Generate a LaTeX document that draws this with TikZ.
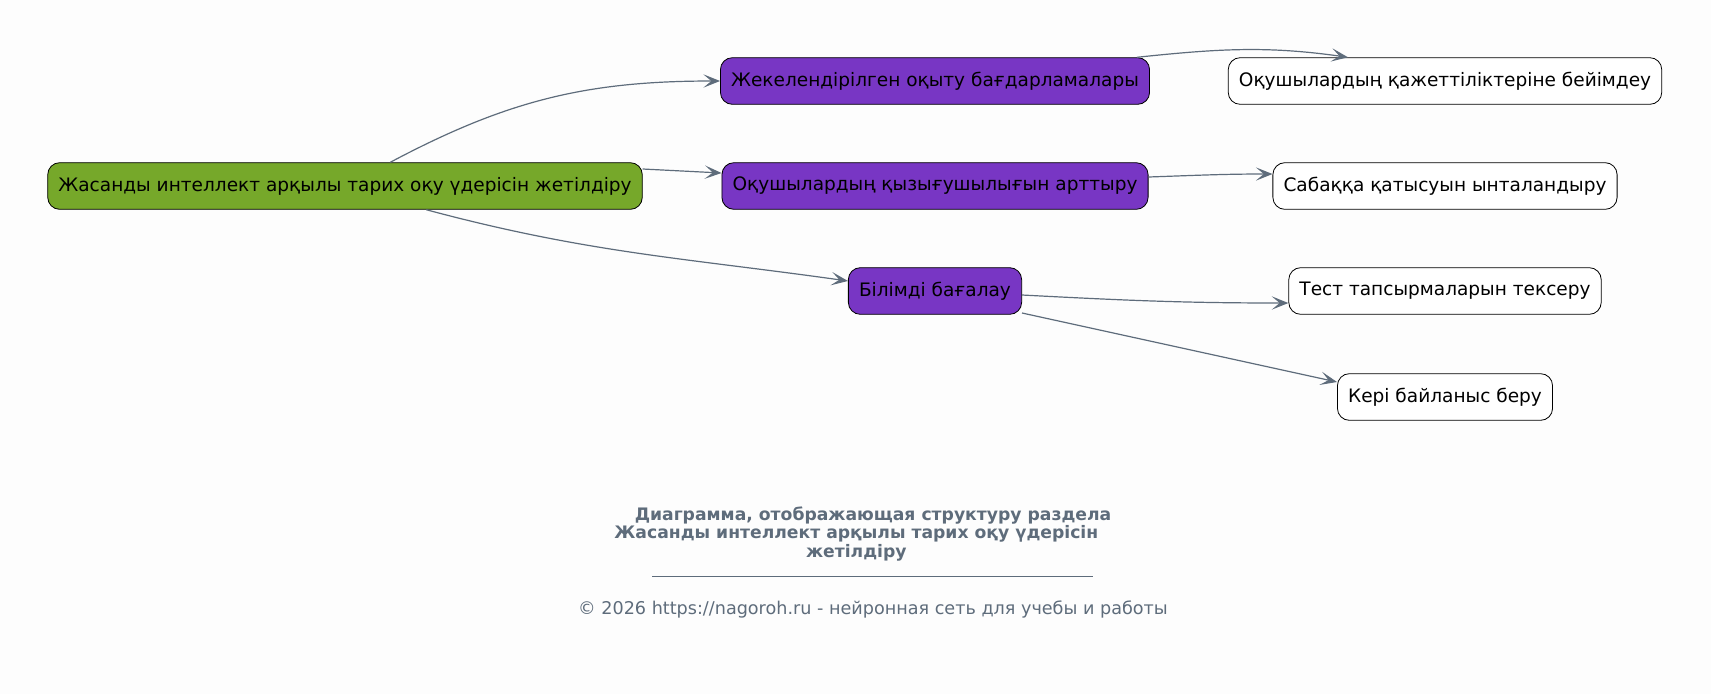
\documentclass[tikz,border=0pt]{standalone}
\usepackage{fontspec}
\setmainfont{DejaVu Sans}
\usetikzlibrary{positioning,arrows.meta}

\definecolor{rootgreen}{HTML}{76A82A}
\definecolor{topicpurple}{HTML}{7836C4}
\definecolor{edgegray}{HTML}{5E6C7B}
\definecolor{paper}{HTML}{FDFDFD}

\tikzset{
  box/.style={draw=black,rounded corners=9pt,minimum height=35pt,inner xsep=8pt,
    line width=0.6pt,font=\fontsize{13.9}{16}\selectfont},
  rootbox/.style={box,fill=rootgreen},
  topicbox/.style={box,fill=topicpurple},
  leafbox/.style={box,fill=white},
  link/.style={draw=edgegray,line width=0.9pt,-{Stealth[length=12.5pt,width=10pt,inset=6pt]}},
}

\begin{document}
\begin{tikzpicture}[x=0.75pt,y=-0.75pt,node distance=78.75pt,on grid]
\fill[paper] (0,0) rectangle (1711,694);
\useasboundingbox (0,0) rectangle (1711,694);

\node[rootbox] (root) at (345,186) {Жасанды интеллект арқылы тарих оқу үдерісін жетілдіру};
\node[topicbox] (interest) [right=442.5pt of root] {Оқушылардың қызығушылығын арттыру};
\node[topicbox] (programs) [above=of interest] {Жекелендірілген оқыту бағдарламалары};
\node[topicbox] (assess) [below=of interest] {Білімді бағалау};
\node[leafbox] (engage) [right=382.5pt of interest] {Сабаққа қатысуын ынталандыру};
\node[leafbox] (adapt) [above=of engage] {Оқушылардың қажеттіліктеріне бейімдеу};
\node[leafbox] (tests) [below=of engage] {Тест тапсырмаларын тексеру};
\node[leafbox] (feedback) [below=79.5pt of tests] {Кері байланыс беру};

\path[link] ([xshift=34pt]root.north) to[out=28,in=180] (programs.west);
\path[link] ([yshift=12.75pt]root.east) -- ([yshift=9.75pt]interest.west);
\path[link] ([xshift=61pt]root.south) to[out=-15,in=172] ([yshift=7.5pt]assess.west);
\path[link] ([xshift=-9.75pt]programs.north east) to[out=6,in=172] ([xshift=-72.75pt]adapt.north);
\path[link] ([yshift=6.75pt]interest.east) to[out=2,in=180] ([yshift=9pt]engage.west);
\path[link] ([yshift=-3pt]assess.east) to[out=-3,in=180] ([yshift=-9pt]tests.west);
\path[link] ([yshift=-16.5pt]assess.east) -- ([yshift=11.25pt]feedback.west);

% caption
\node[text=edgegray,font=\bfseries\fontsize{12.9}{13.6}\selectfont,align=center] (title) at (873,534)
  {Диаграмма, отображающая структуру раздела\\
   Жасанды интеллект арқылы тарих оқу үдерісін\rule{25pt}{0pt}\\
   жетілдіру\rule{25pt}{0pt}};
\coordinate (ruleL) at (652,576);
\coordinate (ruleR) at (1093,576);
\draw[edgegray,line width=0.6pt] (ruleL) -- (ruleR);
\node[text=edgegray,font=\fontsize{13.2}{15}\selectfont] (copy) at (873,609)
  {© 2026 https://nagoroh.ru - нейронная сеть для учебы и работы};
\end{tikzpicture}
\end{document}
